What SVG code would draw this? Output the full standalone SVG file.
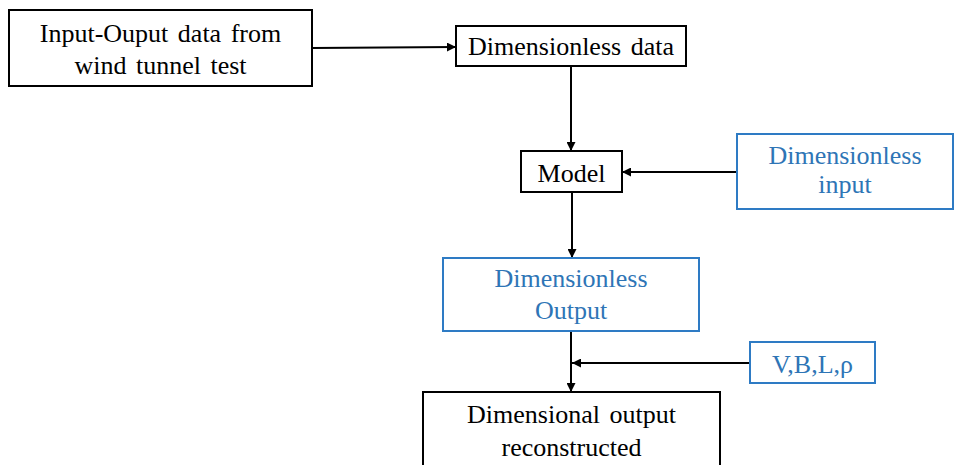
<svg xmlns="http://www.w3.org/2000/svg" width="955" height="465" viewBox="0 0 955 465">
<style>
  .box { fill: #ffffff; stroke: #000000; stroke-width: 2; }
  .bbox { fill: #ffffff; stroke: #2E7BC4; stroke-width: 2; }
  .t { font-family: "Liberation Serif", "Times New Roman", serif; font-size: 26px; fill: #000000; text-anchor: middle; word-spacing: 3px; }
  .bt { font-family: "Liberation Serif", "Times New Roman", serif; font-size: 26px; fill: #2E75B6; text-anchor: middle; }
  .c { stroke: #000000; stroke-width: 2; fill: none; }
</style>
<defs>
  <marker id="ah" viewBox="0 0 10 10" refX="10" refY="5" markerWidth="4.5" markerHeight="4.5" orient="auto" markerUnits="strokeWidth">
    <path d="M0,0 L10,5 L0,10 z" fill="#000000"/>
  </marker>
</defs>
<rect width="955" height="465" fill="#ffffff"/>
<g id="connectors">
  <line class="c" x1="312" y1="48" x2="456" y2="47" marker-end="url(#ah)"/>
  <line class="c" x1="571" y1="66" x2="571" y2="151" marker-end="url(#ah)"/>
  <line class="c" x1="737" y1="172" x2="622" y2="172" marker-end="url(#ah)"/>
  <line class="c" x1="572" y1="192" x2="572" y2="258" marker-end="url(#ah)"/>
  <line class="c" x1="571" y1="331" x2="571" y2="392" marker-end="url(#ah)"/>
  <line class="c" x1="750" y1="363" x2="572" y2="363" marker-end="url(#ah)"/>
</g>
<g id="node-input-output">
  <rect class="box" x="9" y="10" width="303" height="76"/>
  <text class="t" x="160.5" y="42">Input-Ouput data from</text>
  <text class="t" x="160.5" y="74">wind tunnel test</text>
</g>
<g id="node-dimensionless-data">
  <rect class="box" x="456" y="26" width="230" height="40"/>
  <text class="t" x="571" y="55">Dimensionless data</text>
</g>
<g id="node-model">
  <rect class="box" x="521" y="151" width="101" height="41"/>
  <text class="t" x="571.5" y="182">Model</text>
</g>
<g id="node-dimensionless-input">
  <rect class="bbox" x="737" y="134" width="216" height="75"/>
  <text class="bt" x="845" y="164">Dimensionless</text>
  <text class="bt" x="845" y="193">input</text>
</g>
<g id="node-dimensionless-output">
  <rect class="bbox" x="443" y="258" width="256" height="73"/>
  <text class="bt" x="571" y="287">Dimensionless</text>
  <text class="bt" x="571" y="319">Output</text>
</g>
<g id="node-vblrho">
  <rect class="bbox" x="750" y="342" width="125" height="41"/>
  <text class="bt" x="812.5" y="373">V,B,L,ρ</text>
</g>
<g id="node-dimensional-output">
  <rect class="box" x="423" y="392" width="297" height="90"/>
  <text class="t" x="571.5" y="423">Dimensional output</text>
  <text class="t" x="571.5" y="456">reconstructed</text>
</g>
</svg>
